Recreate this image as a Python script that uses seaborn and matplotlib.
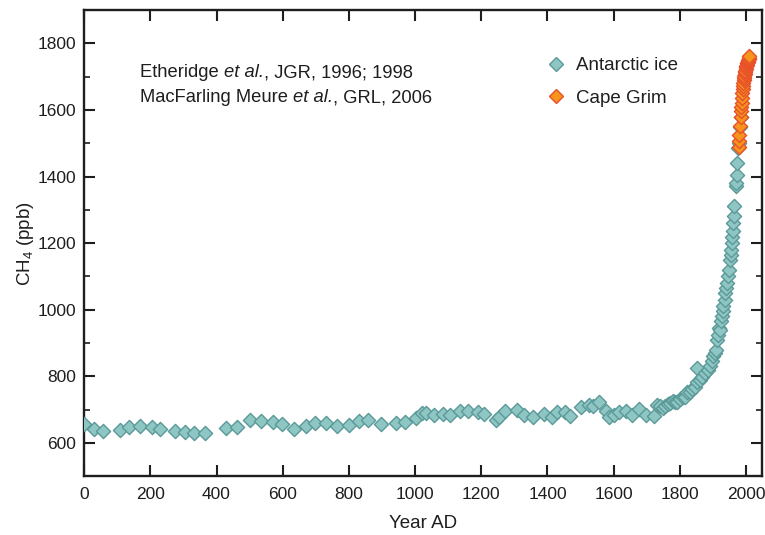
import matplotlib
matplotlib.use("Agg")
import matplotlib.pyplot as plt
import seaborn as sns
import pandas as pd
from matplotlib.ticker import MultipleLocator
from matplotlib.lines import Line2D

# ---- data ----
ice_year = [0, 31, 58, 107, 137, 170, 204, 230, 274, 305, 331, 365, 428, 462,
            500, 535, 570, 597, 635, 669, 699, 730, 764, 799, 830, 859, 897,
            942, 968, 1002, 1022, 1034, 1056, 1084, 1106, 1137, 1161, 1191,
            1209, 1245, 1255, 1273, 1307, 1328, 1355, 1388, 1415, 1430, 1453,
            1468, 1501, 1526, 1539, 1557, 1576, 1586, 1601, 1616, 1636, 1656,
            1677, 1697, 1722, 1732, 1740, 1748, 1755, 1763, 1770, 1779, 1785,
            1792, 1800, 1808, 1816, 1823, 1831, 1838, 1846, 1851, 1853, 1861,
            1868, 1876, 1884, 1891, 1896, 1901, 1905, 1909, 1913, 1916, 1919,
            1921, 1924, 1926, 1929, 1931, 1935, 1937, 1940, 1942, 1945, 1949,
            1952, 1954, 1955, 1957, 1959, 1960, 1962, 1963, 1965, 1969, 1970,
            1972, 1973, 1976, 1978, 1982, 1985]
ice_ch4 = [656, 642, 637, 640, 647, 650, 649, 641, 636, 633, 629, 631, 645, 648,
           670, 667, 662, 656, 642, 651, 659, 660, 652, 653, 667, 668, 657,
           659, 664, 674, 689, 689, 684, 686, 685, 697, 697, 692,
           686, 669, 679, 697, 700, 685, 679, 688, 679, 694, 693,
           682, 709, 713, 711, 724, 697, 679, 684, 694, 697, 684,
           702, 684, 681, 714, 710, 704, 712, 717, 720, 727, 722,
           724, 733, 739, 739, 752, 754, 762, 769, 825, 784, 790,
           797, 810, 820, 830, 845, 860, 870, 880, 910, 925, 945,
           940, 965, 980, 995, 1010, 1030, 1050, 1065, 1080, 1100, 1120,
           1150, 1165, 1180, 1200, 1220, 1236, 1260, 1281, 1311, 1371, 1381,
           1406, 1441, 1486, 1500, 1550, 1580]

cg_year = [1978, 1979, 1980, 1982, 1984, 1985, 1986, 1987, 1988, 1989, 1990,
           1991, 1992, 1993, 1994, 1995, 1996, 1997, 1998, 1999, 2000, 2001,
           2002, 2003, 2004, 2005, 2006, 2007, 2008, 2009, 2010]
cg_ch4 = [1488, 1506, 1526, 1551, 1578, 1596, 1610, 1622, 1637, 1652, 1662,
          1672, 1682, 1690, 1697, 1702, 1708, 1713, 1718, 1722, 1728, 1732,
          1736, 1740, 1742, 1745, 1748, 1750, 1752, 1757, 1762]

series_labels = ["Antarctic ice", "Cape Grim"]
ref_lines = [("Etheridge ", "et al.", ", JGR, 1996; 1998"),
             ("MacFarling Meure ", "et al.", ", GRL, 2006")]

ice = pd.DataFrame({"year": ice_year, "ch4": ice_ch4})
cg = pd.DataFrame({"year": cg_year, "ch4": cg_ch4})

sns.set_theme(style="ticks")
plt.rcParams["font.family"] = ["Liberation Sans", "DejaVu Sans"]
plt.rcParams["mathtext.default"] = "regular"

TEAL_FACE = "#8ec6c4"
TEAL_EDGE = "#5b9998"
OR_FACE = "#f7941d"
OR_EDGE = "#e8502a"
INK = "#1e1e1e"

fig = plt.figure(figsize=(7.65, 5.35), dpi=100)
ax = fig.add_axes([0.110, 0.110, 0.886, 0.871])

sns.scatterplot(data=ice, x="year", y="ch4", marker="D", s=52,
                color=TEAL_FACE, edgecolor=TEAL_EDGE, linewidth=1.0,
                ax=ax, zorder=3, legend=False)
sns.scatterplot(data=cg, x="year", y="ch4", marker="D", s=52,
                color=OR_FACE, edgecolor=OR_EDGE, linewidth=1.0,
                ax=ax, zorder=4, legend=False)

ax.set_xlim(0, 2048)
ax.set_ylim(500, 1900)
ax.xaxis.set_major_locator(MultipleLocator(200))
ax.yaxis.set_major_locator(MultipleLocator(200))
ax.yaxis.set_minor_locator(MultipleLocator(100))
ax.tick_params(axis="both", which="major", direction="in", length=8, width=1.5,
               labelsize=12.5, colors=INK, top=True, right=True)
ax.tick_params(axis="x", which="major", pad=8)
ax.tick_params(axis="y", which="major", pad=6)
ax.tick_params(axis="y", which="minor", direction="in", length=4, width=1.2,
               left=True, right=True, colors=INK)
ax.tick_params(axis="x", which="minor", bottom=False, top=False)
for sp in ax.spines.values():
    sp.set_visible(True)
    sp.set_linewidth(1.7)
    sp.set_color(INK)

ax.set_xlabel("Year AD", fontsize=13.5, color=INK, labelpad=9)
ax.set_ylabel("CH$_4$ (ppb)", fontsize=13.5, color=INK, labelpad=1)

# reference citation lines (with italic "et al.")
for (pre, it, post), ypos in zip(ref_lines, [0.866, 0.812]):
    t = ax.text(0.082, ypos, pre, transform=ax.transAxes, fontsize=13.2,
                color=INK, va="center")
    t = ax.annotate(it, xycoords=t, xy=(1, 0.5), va="center", fontsize=13.2,
                    color=INK, style="italic")
    ax.annotate(post, xycoords=t, xy=(1, 0.5), va="center", fontsize=13.2,
                color=INK)

handles = [
    Line2D([], [], marker="D", linestyle="none", markersize=7,
           markerfacecolor=TEAL_FACE, markeredgecolor=TEAL_EDGE, markeredgewidth=1.0),
    Line2D([], [], marker="D", linestyle="none", markersize=7,
           markerfacecolor=OR_FACE, markeredgecolor=OR_EDGE, markeredgewidth=1.0),
]
ax.legend(handles, series_labels, loc="upper left",
          bbox_to_anchor=(0.657, 0.935), frameon=False, fontsize=13.5,
          handlelength=1.0, handletextpad=0.6, labelspacing=0.8,
          labelcolor=INK)

fig.savefig("out.png", dpi=100)
